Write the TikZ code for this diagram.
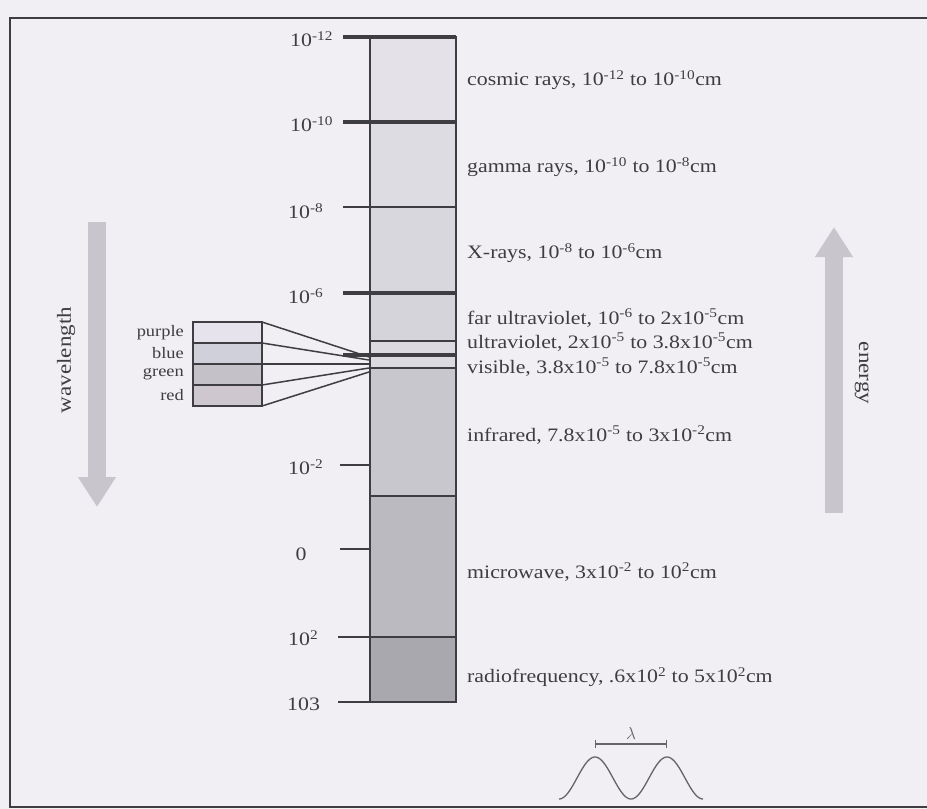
\documentclass[tikz,border=0pt]{standalone}
\usepackage{fontspec}
\setmainfont{Liberation Serif}[FakeStretch=1.15]
\usetikzlibrary{arrows.meta,positioning}

\definecolor{paper}{RGB}{241,239,244}
\definecolor{ink}{RGB}{62,61,66}
\definecolor{arrowgray}{RGB}{200,198,204}
\definecolor{bandA}{RGB}{228,226,232}
\definecolor{bandB}{RGB}{222,220,227}
\definecolor{bandC}{RGB}{217,215,222}
\definecolor{bandD}{RGB}{214,212,219}
\definecolor{bandE}{RGB}{220,218,225}
\definecolor{bandF}{RGB}{201,199,206}
\definecolor{bandG}{RGB}{188,186,193}
\definecolor{bandH}{RGB}{170,168,175}
\definecolor{cpurple}{RGB}{230,227,236}
\definecolor{cblue}{RGB}{208,208,219}
\definecolor{cgreen}{RGB}{196,194,200}
\definecolor{cred}{RGB}{207,199,207}

\begin{document}
\begin{tikzpicture}[x=1pt, y=-1pt, font=\fontsize{19}{22}\selectfont, text=ink,
    heavy/.style={draw=ink, line width=3.6pt},
    thin/.style={draw=ink, line width=1.8pt},
    ticklbl/.style={anchor=west, inner sep=0pt},
    rangelbl/.style={anchor=west, inner sep=0pt},
    colband/.style={draw=ink, line width=1.6pt, minimum width=69pt, minimum height=21pt, inner sep=0pt, outer sep=0pt},
    colname/.style={font=\fontsize{16}{18}\selectfont, inner sep=0pt},
    bigarrow/.style={line width=18pt, draw=arrowgray, -{Triangle[width=36pt, length=30pt]}}]
\fill[paper] (0,0) rectangle (927,809);
\useasboundingbox (0,0) rectangle (927,809);
% page frame
\draw[ink, line width=1.8pt] (927,18) -- (10,18) -- (10,807) -- (927,807);

% the spectrum bar
\foreach \ya/\yb/\tone in {37/122/bandA, 122/207/bandB, 207/293/bandC, 293/341/bandD, 341/355/bandE, 355/368/bandE, 368/496/bandF, 496/637/bandG, 637/702/bandH}
  \fill[\tone] (370,\ya) rectangle (456,\yb);
\foreach \yy in {37, 122, 293, 355}
  \draw[heavy] (343,\yy) -- (456,\yy);
\draw[thin] (343,207) -- (456,207);
\foreach \yy in {341, 368, 496}
  \draw[thin] (370,\yy) -- (456,\yy);
\draw[thin] (338,637) -- (456,637);
\foreach \yy in {465, 549}
  \draw[thin] (340,\yy) -- (370,\yy);
\draw[thin] (338,702) -- (370,702);
\draw[ink, line width=2.2pt] (370,37) rectangle (456,702);

% scale on the left
\node[ticklbl] (t12) at (290,39) {10\textsuperscript{-12}};
\node[ticklbl] (t10) at (290,124) {10\textsuperscript{-10}};
\node[ticklbl] (t8) at (288,211) {10\textsuperscript{-8}};
\node[ticklbl] (t6) at (288,296) {10\textsuperscript{-6}};
\node[ticklbl] (t2) at (288,467) {10\textsuperscript{-2}};
\node (t0) at (301,554) {0};
\node[ticklbl] (tp2) at (288,638) {10\textsuperscript{2}};
\node[ticklbl] (tp3) at (287,704) {103};

% ranges on the right
\node[rangelbl] (cosmic) at (467,80) {cosmic rays, 10\textsuperscript{-12} to 10\textsuperscript{-10}cm};
\node[rangelbl] (gamma) at (467,167) {gamma rays, 10\textsuperscript{-10} to 10\textsuperscript{-8}cm};
\node[rangelbl] (xray) at (467,253) {X-rays, 10\textsuperscript{-8} to 10\textsuperscript{-6}cm};
\node[rangelbl] (faruv) at (467,318) {far ultraviolet, 10\textsuperscript{-6} to 2x10\textsuperscript{-5}cm};
\node[rangelbl] (uv) at (467,342) {ultraviolet, 2x10\textsuperscript{-5} to 3.8x10\textsuperscript{-5}cm};
\node[rangelbl] (vis) at (467,367) {visible, 3.8x10\textsuperscript{-5} to 7.8x10\textsuperscript{-5}cm};
\node[rangelbl] (ir) at (467,435) {infrared, 7.8x10\textsuperscript{-5} to 3x10\textsuperscript{-2}cm};
\node[rangelbl] (micro) at (467,572) {microwave, 3x10\textsuperscript{-2} to 10\textsuperscript{2}cm};
\node[rangelbl] (radio) at (467,677) {radiofrequency, .6x10\textsuperscript{2} to 5x10\textsuperscript{2}cm};

% visible colours
\node[colband, fill=cpurple] (purple) at (227.5,332.5) {};
\node[colband, fill=cblue] (blue) at (227.5,353.5) {};
\node[colband, fill=cgreen] (green) at (227.5,374.5) {};
\node[colband, fill=cred] (red) at (227.5,395.5) {};
\node[colname, left=9pt of purple] (lpurple) {purple};
\node[colname, left=9pt of blue] (lblue) {blue};
\node[colname, left=9pt of green] (lgreen) {green};
\node[colname, left=9pt of red] (lred) {red};
\coordinate (f1) at (369,357);
\coordinate (f2) at (369,360);
\coordinate (f3) at (369,364);
\coordinate (f4) at (369,368);
\coordinate (f5) at (369,372);
\draw[ink, line width=1.5pt] (purple.north east) -- (f1);
\draw[ink, line width=1.5pt] (purple.south east) -- (f2);
\draw[ink, line width=1.5pt] (blue.south east) -- (f3);
\draw[ink, line width=1.5pt] (green.south east) -- (f4);
\draw[ink, line width=1.5pt] (red.south east) -- (f5);

% direction arrows
\coordinate (wtop) at (97,222);
\coordinate (wbot) at (97,507);
\draw[bigarrow] (wtop) -- (wbot);
\node[rotate=90, font=\fontsize{20}{22}\selectfont] (wl) at (66,360) {wavelength};
\coordinate (ebot) at (834,513);
\coordinate (etop) at (834,227);
\draw[bigarrow] (ebot) -- (etop);
\node[rotate=-90, font=\fontsize{20}{22}\selectfont] (en) at (862,373) {energy};

% wave with its wavelength
\draw[ink!80, line width=1.3pt, domain=559:703, samples=100, smooth] plot (\x, {778 - 21*cos(5*(\x-595))});
\coordinate (pk1) at (595,744);
\coordinate (pk2) at (667,744);
\draw[ink!80, line width=1.3pt, |-|] (pk1) -- (pk2) node[midway, above=1pt, font=\fontsize{19}{21}\selectfont] (lam) {$\lambda$};
\end{tikzpicture}
\end{document}
